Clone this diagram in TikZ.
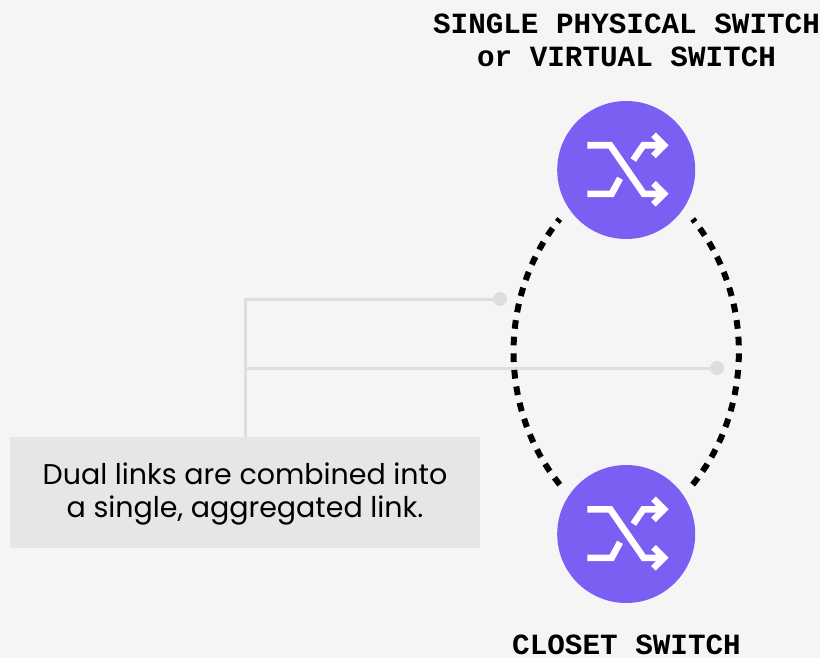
\documentclass[tikz,border=0pt]{standalone}
\usepackage{fontspec}
\setmainfont{Poppins}
\newfontfamily\labelfont{Liberation Mono}
\usetikzlibrary{calc}
\definecolor{bgc}{HTML}{F5F5F5}
\definecolor{purp}{HTML}{7B5EF2}
\definecolor{leader}{HTML}{DEDEDE}
\definecolor{boxc}{HTML}{E6E6E6}
\tikzset{
  switchnode/.style={circle,fill=purp,minimum size=138bp,inner sep=0pt,draw=none},
  caplabel/.style={font=\labelfont\bfseries\fontsize{29.3bp}{33.5bp}\selectfont,align=center,text=black,inner sep=0pt},
  notebox/.style={fill=boxc,minimum width=470bp,minimum height=111bp,inner sep=0pt},
  notetext/.style={align=center,inner sep=0pt,font=\fontsize{28.5bp}{33.5bp}\selectfont,text=black},
  leaderline/.style={draw=leader,line width=3bp},
  leaderdot/.style={circle,fill=leader,minimum size=14bp,inner sep=0pt},
  duallink/.style={draw=black,line width=6bp,dash pattern=on 8.7bp off 7.95bp,dash phase=5bp},
  iconline/.style={draw=white,line width=6.6bp,line join=miter,line cap=butt},
}
\newcommand{\switchicon}[1]{%
  \begin{scope}[shift={(#1)}]
    \draw[iconline] (-38.9,-24.7) -- (-16,-24.7) -- (17.5,23.8) -- (37,23.8);
    \draw[iconline] (27.3,13.3) -- (37.8,23.8) -- (27.3,34.3);
    \draw[iconline] (7.1,-10) -- (17.1,-24.7) -- (37,-24.7);
    \draw[iconline] (27.3,-35.2) -- (37.8,-24.7) -- (27.3,-14.2);
    \draw[iconline] (-38.9,23.8) -- (-14.5,23.8) -- (-6.2,8.3);
  \end{scope}}
\begin{document}
\begin{tikzpicture}[x=1bp,y=-1bp]
  \fill[bgc] (0,0) rectangle (820,658);
  \useasboundingbox (0,0) rectangle (820,658);
  \node[notebox,label={[notetext,yshift=-1.5bp]center:Dual links are combined into\\a single, aggregated link.}] (note) at (245,492.5) {};
  \node[leaderdot] (dotA) at (500,299) {};
  \node[leaderdot] (dotB) at (717,368) {};
  \coordinate (elbow) at (note.north |- dotA);
  \coordinate (tee) at (note.north |- dotB);
  \draw[leaderline] (note.north) -- (elbow) -- (dotA);
  \draw[leaderline] (tee) -- (dotB);
  \node[switchnode] (top) at (626.2,170) {};
  \node[switchnode] (bot) at (626.2,534) {};
  \switchicon{626.2,170}
  \switchicon{626.2,534}
  \coordinate (tl) at (559.7,219);
  \coordinate (tr) at (692.7,219);
  \coordinate (bl) at (560.5,485.5);
  \coordinate (br) at (691.9,485.5);
  \draw[duallink] (tl) .. controls (498,295) and (498,409.5) .. (bl);
  \draw[duallink] (tr) .. controls (754.4,295) and (754.4,409.5) .. (br);
  \node[caplabel,anchor=base] (l1) at (626.5,33.5) {SINGLE PHYSICAL SWITCH};
  \node[caplabel,anchor=base] (l2) at (626.5,67) {or VIRTUAL SWITCH};
  \node[caplabel,anchor=base] (l3) at (626.5,654.5) {CLOSET SWITCH};
\end{tikzpicture}
\end{document}
